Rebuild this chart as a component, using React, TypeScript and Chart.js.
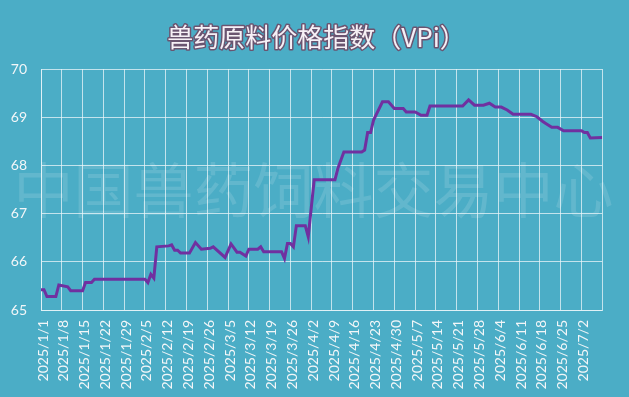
import React, { useEffect, useRef } from "react";
import { Chart, registerables } from "chart.js";

Chart.register(...registerables);

const TITLE = "兽药原料价格指数（VPi）";
const WATERMARK = "中国兽药饲料交易中心";
const START_DATE = [2025, 1, 1];
const X_MAX_DAY = 189;
const LAST_LABEL_DAY = 182;
const Y_TICKS = [65, 66, 67, 68, 69, 70];

// day offsets from 2025/1/1
const dayOffsets = [
  0, 1, 2, 5, 6, 9, 10, 14, 15, 17, 18, 35, 36, 37, 38, 39, 43, 44, 45, 46,
  47, 50, 52, 54, 57, 58, 62, 64, 66, 67, 69, 70, 73, 74, 75, 81, 82, 83, 84,
  85, 86, 89, 90, 92, 99, 100, 102, 108, 109, 110, 111, 112, 115, 117, 119,
  122, 123, 126, 128, 130, 131, 142, 144, 146, 149, 151, 153, 155, 157, 159,
  165, 167, 169, 170, 172, 174, 176, 182, 183, 184, 185, 189,
];
const vpiValues = [
  65.42, 65.42, 65.28, 65.28, 65.52, 65.48, 65.4, 65.4, 65.57, 65.57, 65.64,
  65.64, 65.57, 65.74, 65.66, 66.31, 66.33, 66.35, 66.24, 66.24, 66.18, 66.18,
  66.4, 66.26, 66.28, 66.31, 66.09, 66.37, 66.2, 66.2, 66.12, 66.26, 66.26,
  66.31, 66.21, 66.21, 66.07, 66.38, 66.38, 66.31, 66.75, 66.75, 66.52, 67.7,
  67.7, 67.94, 68.28, 68.28, 68.32, 68.68, 68.68, 68.94, 69.32, 69.32, 69.18,
  69.18, 69.11, 69.11, 69.04, 69.04, 69.23, 69.23, 69.36, 69.25, 69.25, 69.29,
  69.21, 69.21, 69.15, 69.06, 69.06, 69.01, 68.91, 68.87, 68.79, 68.79, 68.72,
  68.72, 68.68, 68.68, 68.57, 68.58,
];

const BG = "#4badc6";
const GRID = "rgba(235,245,248,0.75)";
const LINE = "#7030a0";
const TEXT = "#f2f6f8";

function dayLabel(day: number): string {
  const d = new Date(Date.UTC(START_DATE[0], START_DATE[1] - 1, START_DATE[2] + day));
  return `${d.getUTCFullYear()}/${d.getUTCMonth() + 1}/${d.getUTCDate()}`;
}

const decorPlugin = {
  id: "decor",
  beforeDatasetsDraw(chart: any) {
    const { ctx, chartArea } = chart;
    ctx.save();
    ctx.font = '60px "Noto Sans CJK SC"';
    ctx.fillStyle = "rgba(255,255,255,0.13)";
    ctx.textAlign = "center";
    ctx.textBaseline = "middle";
    ctx.fillText(WATERMARK, (chartArea.left + chartArea.right) / 2 - 8, 190);
    ctx.restore();
  },
  afterDraw(chart: any) {
    const { ctx, width } = chart;
    ctx.save();
    ctx.font = '26px "Noto Sans CJK SC"';
    ctx.textAlign = "center";
    ctx.textBaseline = "middle";
    ctx.lineJoin = "round";
    ctx.lineWidth = 3;
    ctx.strokeStyle = "#6a5470";
    ctx.strokeText(TITLE, width / 2 + 2, 37);
    ctx.fillStyle = "#f6f0f6";
    ctx.fillText(TITLE, width / 2 + 2, 37);
    ctx.restore();
  },
};

export default function App() {
  const ref = useRef<HTMLCanvasElement>(null);
  useEffect(() => {
    document.body.style.margin = "0";
    const data = dayOffsets.map((x, i) => ({ x, y: vpiValues[i] }));
    const chart = new Chart(ref.current!, {
      type: "line",
      data: {
        datasets: [
          {
            data,
            borderColor: LINE,
            borderWidth: 3,
            pointRadius: 0,
            tension: 0,
            fill: false,
          },
        ],
      },
      options: {
        animation: false,
        responsive: false,
        maintainAspectRatio: false,
        layout: { padding: { top: 69, right: 17, left: 0, bottom: 0 } },
        plugins: { legend: { display: false }, tooltip: { enabled: false }, title: { display: false } },
        scales: {
          x: {
            type: "linear",
            min: 0,
            max: X_MAX_DAY,
            afterFit: (s: any) => {
              s.height = 87;
            },
            afterBuildTicks: (s: any) => {
              const t = [];
              for (let v = 0; v <= X_MAX_DAY; v += 7) t.push({ value: v });
              s.ticks = t;
            },
            ticks: {
              autoSkip: false,
              maxRotation: 90,
              minRotation: 90,
              padding: 10,
              labelOffset: 2,
              color: TEXT,
              font: { family: "Lato", size: 14 },
              callback: (v: any) => (Number(v) > LAST_LABEL_DAY ? "" : dayLabel(Number(v))),
            },
            grid: { color: GRID, lineWidth: 1, drawTicks: false },
            border: { color: GRID, width: 1 },
          },
          y: {
            min: Y_TICKS[0],
            max: Y_TICKS[Y_TICKS.length - 1],
            afterFit: (s: any) => {
              s.width = 41;
            },
            ticks: {
              stepSize: 1,
              padding: 14,
              color: TEXT,
              font: { family: "Lato", size: 14 },
            },
            grid: { color: GRID, lineWidth: 1, drawTicks: false },
            border: { color: GRID, width: 1 },
          },
        },
      },
      plugins: [decorPlugin],
    });
    return () => chart.destroy();
  }, []);
  return (
    <div style={{ width: 629, height: 397, background: BG }}>
      <canvas ref={ref} width={629} height={397} style={{ display: "block" }} />
    </div>
  );
}
